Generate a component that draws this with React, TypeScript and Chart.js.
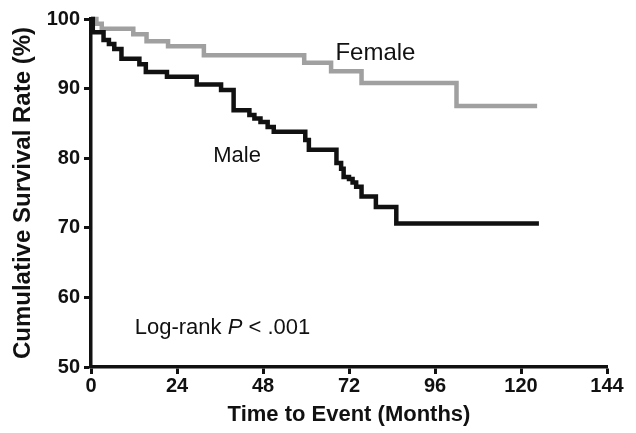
import React, { useEffect, useRef } from "react";
import { Chart, registerables } from "chart.js";

Chart.register(...registerables);

// Kaplan-Meier step data (months, cumulative survival %)
const maleTimes = [0, 0.5, 3.5, 5, 6.5, 8.5, 13.5, 15.3, 21.2, 29.5, 36.3, 39.8, 44.2, 45.6, 47.3, 49.3, 51, 59.8, 60.8, 68.5, 69.8, 70.5, 72, 73, 74, 75.5, 79.5, 85.2, 125];
const maleSurvival = [100, 98.1, 97.0, 96.4, 95.7, 94.3, 93.5, 92.4, 91.7, 90.6, 89.8, 86.9, 86.2, 85.7, 85.2, 84.5, 83.8, 82.6, 81.2, 79.3, 78.5, 77.3, 77.0, 76.5, 75.9, 74.5, 73.0, 70.6, 70.6];

const femaleTimes = [0, 1.5, 3, 11.8, 15.5, 21.5, 31.5, 59.5, 67, 75.5, 102, 124.5];
const femaleSurvival = [100, 99.3, 98.6, 97.8, 96.8, 96.1, 94.8, 93.7, 92.5, 90.8, 87.5, 87.5];

const xTickValues = [0, 24, 48, 72, 96, 120, 144];
const yTickValues = [50, 60, 70, 80, 90, 100];

const xAxisTitle = "Time to Event (Months)";
const yAxisTitle = "Cumulative Survival Rate (%)";

// text annotations placed in data units
const labelFemale = { text: "Female", x: 68.2, y: 95.1 };
const labelMale = { text: "Male", x: 34.1, y: 80.3 };
const labelLogRank = { x: 12.2, y: 55.6 };

const FONT = "'Liberation Sans', Arial, Helvetica, sans-serif";

export default function App() {
  const ref = useRef<HTMLCanvasElement | null>(null);

  useEffect(() => {
    document.body.style.margin = "0";
    const canvas = ref.current;
    if (!canvas) return;

    const textPlugin = {
      id: "kmText",
      afterDatasetsDraw(chart: any) {
        const ctx = chart.ctx as CanvasRenderingContext2D;
        const xs = chart.scales.x;
        const ys = chart.scales.y;
        ctx.save();
        ctx.fillStyle = "#111";
        ctx.textBaseline = "middle";
        ctx.textAlign = "left";
        ctx.font = `24px ${FONT}`;
        ctx.fillText(labelFemale.text, xs.getPixelForValue(labelFemale.x), ys.getPixelForValue(labelFemale.y));
        ctx.font = `22px ${FONT}`;
        ctx.fillText(labelMale.text, xs.getPixelForValue(labelMale.x), ys.getPixelForValue(labelMale.y));
        let px = xs.getPixelForValue(labelLogRank.x);
        const py = ys.getPixelForValue(labelLogRank.y);
        const parts: [string, string][] = [
          ["Log-rank ", `22px ${FONT}`],
          ["P", `italic 22px ${FONT}`],
          [" < .001", `22px ${FONT}`],
        ];
        for (const [t, f] of parts) {
          ctx.font = f;
          ctx.fillText(t, px, py);
          px += ctx.measureText(t).width;
        }
        ctx.restore();
      },
    };

    const chart = new Chart(canvas, {
      type: "line",
      data: {
        datasets: [
          {
            label: "Male",
            data: maleTimes.map((t, i) => ({ x: t, y: maleSurvival[i] })),
            borderColor: "#111111",
            borderWidth: 4.5,
            stepped: true,
            pointRadius: 0,
            fill: false,
            clip: false as any,
            borderJoinStyle: "miter",
            borderCapStyle: "butt",
          },
          {
            label: "Female",
            data: femaleTimes.map((t, i) => ({ x: t, y: femaleSurvival[i] })),
            borderColor: "#a0a0a0",
            borderWidth: 4.5,
            stepped: true,
            pointRadius: 0,
            fill: false,
            clip: false as any,
            borderJoinStyle: "miter",
            borderCapStyle: "butt",
          },
        ],
      },
      options: {
        animation: false,
        responsive: false,
        devicePixelRatio: 1,
        layout: { padding: { top: 19, right: 29, left: 0, bottom: 0 } },
        plugins: {
          legend: { display: false },
          tooltip: { enabled: false },
        },
        scales: {
          x: {
            type: "linear",
            min: 0,
            max: 144,
            afterBuildTicks: (scale: any) => {
              scale.ticks = xTickValues.map((v) => ({ value: v }));
            },
            afterFit: (scale: any) => {
              scale.height = 66;
            },
            ticks: {
              color: "#111",
              font: { family: FONT, size: 20, weight: "bold" },
              padding: 0,
              maxRotation: 0,
              autoSkip: false,
            },
            grid: {
              drawOnChartArea: false,
              drawTicks: true,
              tickLength: 7,
              tickWidth: 3,
              tickColor: "#111",
            },
            border: { display: true, color: "#111", width: 3.5 },
            title: {
              display: true,
              text: xAxisTitle,
              color: "#111",
              font: { family: FONT, size: 22, weight: "bold" },
              padding: { top: 0, bottom: 5 },
            },
          },
          y: {
            type: "linear",
            min: 50,
            max: 100,
            afterBuildTicks: (scale: any) => {
              scale.ticks = yTickValues.map((v) => ({ value: v }));
            },
            afterFit: (scale: any) => {
              scale.width = 91;
            },
            ticks: {
              color: "#111",
              font: { family: FONT, size: 20, weight: "bold" },
              padding: 4,
              autoSkip: false,
            },
            grid: {
              drawOnChartArea: false,
              drawTicks: true,
              tickLength: 7,
              tickWidth: 3,
              tickColor: "#111",
            },
            border: { display: true, color: "#111", width: 3.5 },
            title: {
              display: true,
              text: yAxisTitle,
              color: "#111",
              font: { family: FONT, size: 24, weight: "bold" },
              padding: { top: 9, bottom: 0 },
            },
          },
        },
      },
      plugins: [textPlugin],
    } as any);

    return () => chart.destroy();
  }, []);

  return (
    <div style={{ width: 636, height: 433, background: "#fff" }}>
      <canvas ref={ref} width={636} height={433} style={{ display: "block" }} />
    </div>
  );
}
